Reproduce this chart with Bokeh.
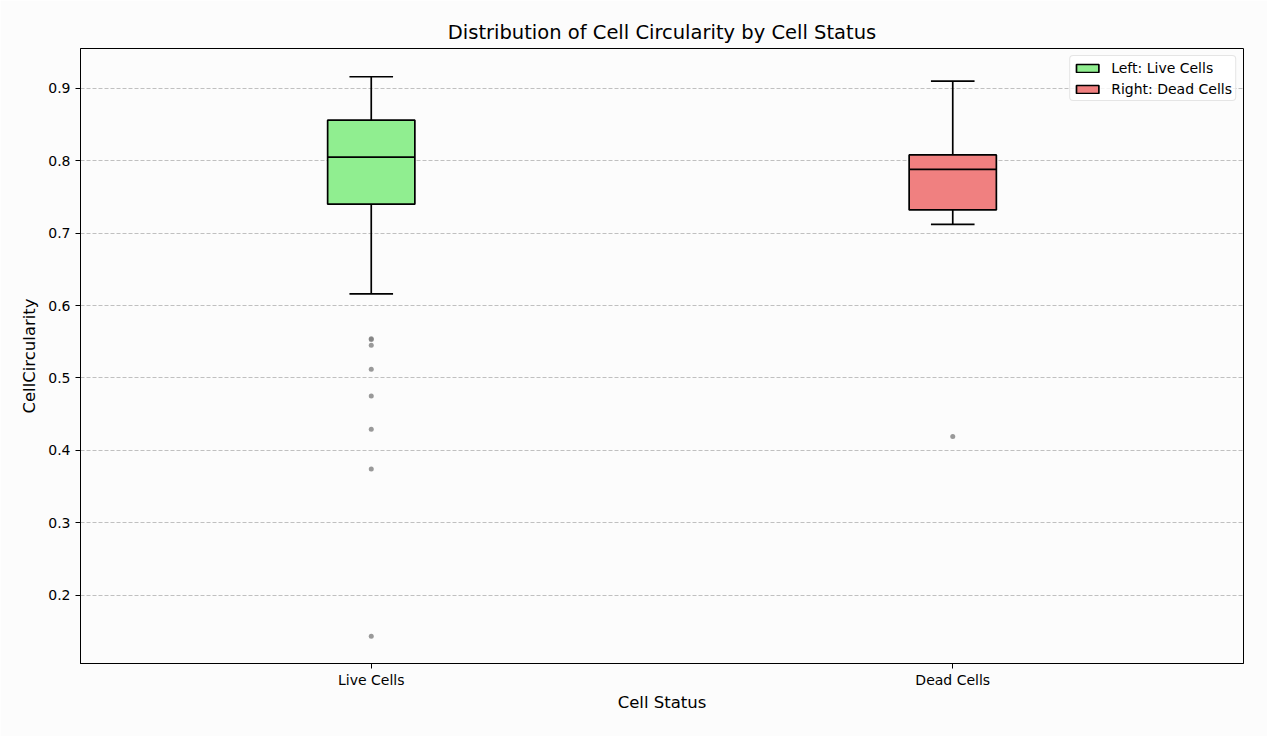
from bokeh.plotting import figure
from bokeh.models import Range1d, FixedTicker, Legend, LegendItem
from bokeh.embed import file_html
from bokeh.resources import INLINE

categories = ["Live Cells", "Dead Cells"]
legend_labels = ["Left: Live Cells", "Right: Dead Cells"]
colors = ["#90ee90", "#f08080"]
whisker_low = [0.616, 0.712]
q1 = [0.740, 0.732]
median = [0.805, 0.788]
q3 = [0.856, 0.808]
whisker_high = [0.916, 0.910]
live_outliers = [0.554, 0.553, 0.545, 0.512, 0.475, 0.429, 0.374, 0.143]
dead_outliers = [0.419]
y_ticks = [0.2, 0.3, 0.4, 0.5, 0.6, 0.7, 0.8, 0.9]

xpos = [i + 0.5 for i in range(len(categories))]
box_w = 0.15
cap_w = 0.075

p = figure(width=1267, height=736, output_backend="svg", toolbar_location=None,
           x_range=Range1d(0, 2), y_range=Range1d(0.1055, 0.955),
           title="Distribution of Cell Circularity by Cell Status",
           x_axis_label="Cell Status", y_axis_label="CellCircularity",
           min_border_left=80, min_border_right=24, min_border_top=48, min_border_bottom=73)

bg = "#fcfcfc"
p.background_fill_color = bg
p.border_fill_color = bg
p.outline_line_color = "black"
p.outline_line_width = 1

p.title.align = "center"
p.title.text_font = "DejaVu Sans"
p.title.text_font_size = "19.5px"
p.title.text_font_style = "normal"
p.title.text_color = "black"

for ax in (p.xaxis[0], p.yaxis[0]):
    ax.axis_label_text_font = "DejaVu Sans"
    ax.axis_label_text_font_size = "16.5px"
    ax.axis_label_text_font_style = "normal"
    ax.axis_label_text_color = "black"
    ax.major_label_text_font = "DejaVu Sans"
    ax.major_label_text_font_size = "14px"
    ax.major_label_text_color = "black"
    ax.minor_tick_line_color = None
    ax.major_tick_in = 0
    ax.major_tick_out = 5
    ax.axis_line_color = "black"
    ax.major_tick_line_color = "black"

p.xaxis.ticker = FixedTicker(ticks=xpos)
p.xaxis.major_label_overrides = {x: c for x, c in zip(xpos, categories)}
p.xaxis.major_label_standoff = 3
p.xaxis.axis_label_standoff = 2
p.yaxis.ticker = FixedTicker(ticks=y_ticks)
p.yaxis.axis_label_standoff = 6

p.xgrid.grid_line_color = None
p.ygrid.grid_line_color = "#b0b0b0"
p.ygrid.grid_line_dash = "4 2"
p.ygrid.grid_line_width = 0.8

# whiskers
p.segment(x0=xpos, y0=q3, x1=xpos, y1=whisker_high, line_color="black", line_width=1.7)
p.segment(x0=xpos, y0=q1, x1=xpos, y1=whisker_low, line_color="black", line_width=1.7)
p.segment(x0=[x - cap_w / 2 for x in xpos], y0=whisker_high,
          x1=[x + cap_w / 2 for x in xpos], y1=whisker_high, line_color="black", line_width=1.7)
p.segment(x0=[x - cap_w / 2 for x in xpos], y0=whisker_low,
          x1=[x + cap_w / 2 for x in xpos], y1=whisker_low, line_color="black", line_width=1.7)

items = []
for i in range(len(categories)):
    r = p.quad(left=[xpos[i] - box_w / 2], right=[xpos[i] + box_w / 2], bottom=[q1[i]], top=[q3[i]],
               fill_color=colors[i], line_color="black", line_width=1.7)
    items.append(LegendItem(label=legend_labels[i], renderers=[r]))

p.segment(x0=[x - box_w / 2 for x in xpos], y0=median,
          x1=[x + box_w / 2 for x in xpos], y1=median, line_color="black", line_width=1.7)

p.scatter(x=[xpos[0]] * len(live_outliers), y=live_outliers, size=5, fill_color="gray",
          fill_alpha=0.8, line_color=None)
p.scatter(x=[xpos[1]] * len(dead_outliers), y=dead_outliers, size=5, fill_color="gray",
          fill_alpha=0.8, line_color=None)

legend = Legend(items=items, location="top_right")
legend.label_text_font = "DejaVu Sans"
legend.label_text_font_size = "14px"
legend.label_text_color = "black"
legend.label_height = 17
legend.glyph_width = 28
legend.glyph_height = 10
legend.label_standoff = 10
legend.spacing = 4
legend.padding = 3
legend.margin = 7
legend.border_line_color = "#cccccc"
legend.border_line_width = 1
legend.border_radius = 4
legend.background_fill_color = "white"
legend.background_fill_alpha = 0.8
p.add_layout(legend)

open("out.html", "w").write(file_html(p, INLINE))
